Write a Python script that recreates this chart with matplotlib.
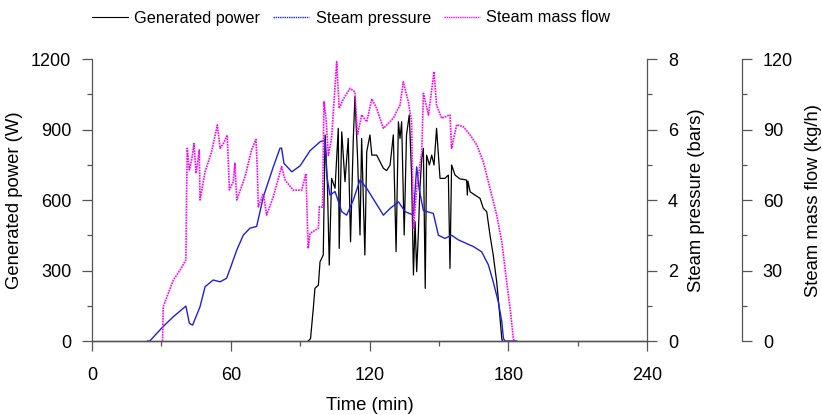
import matplotlib.pyplot as plt
from matplotlib.lines import Line2D
from matplotlib.ticker import MultipleLocator

plt.rcParams['font.family'] = ['Liberation Sans', 'DejaVu Sans']

# generated power (W)
t_power = [93.5, 94.5, 95.7, 96.4, 97.9, 98.6, 100, 100.8, 101.8, 102.6, 103.6, 105.1, 106.5,
           106.9, 108, 109.4, 110.8, 111.8, 113, 113.7, 114.8, 115.9, 116.6, 118, 118.8, 120.2,
           121, 123.1, 126, 127.4, 128.9, 130.3, 131.5, 132.5, 133.2, 133.9, 135, 136, 137.2,
           138.2, 139, 139.7, 140.4, 141.1, 141.8, 142.6, 143.3, 144.1, 144.7, 145.9, 146.9,
           147.9, 149, 150.5, 152.6, 154.1, 154.8, 155.5, 157, 159.1, 162, 162.3, 162.6, 163.5,
           165.6, 167.8, 169.2, 170.7, 172.1, 173.5, 175, 176.2, 177.2, 177.5]
power = [0, 10, 139, 224, 238, 337, 366, 877, 664, 323, 692, 650, 905,
         394, 890, 678, 862, 422, 862, 1040, 791, 451, 862, 366, 805, 877,
         791, 791, 735, 725, 749, 877, 380, 933, 862, 933, 451, 877, 962,
         706, 281, 508, 295, 451, 650, 777, 820, 224, 791, 749, 791,
         749, 905, 692, 692, 706, 309, 749, 706, 690, 685, 621, 680, 635,
         621, 607, 565, 550, 451, 366, 252, 125, 11, 0]

# steam pressure (bars)
t_pressure = [24, 25, 30.6, 35.2, 40.6, 42.1, 43.5, 46.7, 48.9, 52.4, 55.4, 58.2, 60, 62.6,
              65.4, 68.3, 71.2, 74.1, 78.4, 81.3, 82, 83, 86.4, 90, 94.3, 98.6, 100.8, 101.5,
              102.9, 105.1, 108, 110.1, 113, 115.9, 118.8, 122.4, 126, 128.9, 132.5, 135.4,
              139, 140.4, 141.5, 143.3, 147.6, 149.8, 152.6, 155.5, 158.4, 163.5, 164.9, 168.5,
              171.4, 173.5, 175.7, 177.2, 177.9, 178.5, 183.6]
pressure = [0, 0, 0.4, 0.69, 0.99, 0.5, 0.45, 0.97, 1.54, 1.73, 1.68, 1.78, 2.1, 2.58,
            3.0, 3.2, 3.25, 4.09, 4.94, 5.47, 5.47, 5.04, 4.8, 4.97, 5.4, 5.65, 5.7, 4.71,
            4.14, 4.24, 3.67, 3.57, 4.0, 4.57, 4.33, 3.95, 3.57, 3.76, 3.95, 3.67,
            3.57, 4.94, 4.3, 3.7, 3.62, 3.0, 2.91, 3.0, 2.87, 2.72, 2.68, 2.53,
            2.16, 1.68, 1.11, 0.55, 0.08, 0, 0]

# steam mass flow (kg/h)
t_flow = [30.5, 30.8, 33, 35.2, 38.1, 40.6, 40.9, 41.2, 42.1, 43.1, 44.1, 45, 46.4, 46.7,
          48.9, 51.7, 54.2, 55.4, 56.8, 58.5, 59.4, 61.1, 61.8, 62.6, 66.2, 69, 70.9, 71.5,
          71.9, 74.1, 75.5, 78.4, 82, 83.5, 87, 90.7, 92.5, 93.1, 93.5, 94.3, 97.9, 98.3,
          99.7, 100.3, 101.2, 102.2, 103.6, 105.8, 106.9, 108.7, 111.6, 113.7, 114.8, 116.6,
          118.8, 121, 123.1, 126, 128.9, 130.3, 131.7, 133.2, 134.6, 136.8, 138.2, 139, 140.4,
          142.6, 143.3, 145.5, 147.9, 149, 151.2, 154.8, 155.5, 157.7, 160.6, 163.5, 166.4,
          169.2, 172.1, 175, 177.2, 178.6, 179.3, 180.8, 182.2, 182.5]
flow = [0, 14.6, 20.3, 26, 30.2, 34.5, 62.8, 82, 72.8, 77, 84, 71.3, 81.3, 60,
        72, 80.5, 91.9, 82, 84, 87.6, 64.3, 67.8, 75.6, 60, 70, 81.3, 85.8, 72.8,
        57.1, 62.8, 53.6, 61.4, 74.2, 68.5, 64.2, 64.2, 71.3, 51.5, 39.4, 45.8, 48, 57.1,
        57, 101.8, 94.7, 79, 86.2, 118.8, 99, 103, 107.5, 106, 87.6, 96.2,
        93.3, 103, 99, 90.5, 93.3, 94.8, 97.6, 100.4, 110.3, 101.8, 93.3, 48, 65,
        80.5, 105.4, 96.2, 114.6, 100.4, 94.8, 96.2, 82, 92, 91.2, 87.7, 83.4,
        76.3, 65, 53.6, 42.3, 30.9, 25.2, 13.9, 1.1, 0]

fig = plt.figure(figsize=(8.22, 4.15), dpi=100)
ax = fig.add_axes([92 / 822, 1 - 341 / 415, 555 / 822, 282 / 415])
ax2 = ax.twinx()
ax3 = ax.twinx()

ax.plot(t_power, power, color='black', lw=0.9, zorder=3)
ax2.plot(t_pressure, pressure, color='#1f1fe0', lw=1.0)
ax3.plot(t_flow, flow, color='#ff00ff', lw=1.2, ls=(0, (1, 0.6)))

ax.set_xlim(0, 240)
ax.set_ylim(0, 1200)
ax2.set_ylim(0, 8)
ax3.set_ylim(0, 120)

ax.xaxis.set_major_locator(MultipleLocator(60))
ax.xaxis.set_minor_locator(MultipleLocator(30))
ax.yaxis.set_major_locator(MultipleLocator(300))
ax.yaxis.set_minor_locator(MultipleLocator(150))
ax2.yaxis.set_major_locator(MultipleLocator(2))
ax2.yaxis.set_minor_locator(MultipleLocator(1))
ax3.yaxis.set_major_locator(MultipleLocator(30))
ax3.yaxis.set_minor_locator(MultipleLocator(15))

spine_col = '#555555'
for a in (ax, ax2, ax3):
    a.spines['top'].set_visible(False)
    for s in a.spines.values():
        s.set_color(spine_col)
        s.set_linewidth(0.9)
    a.tick_params(which='major', length=7, width=0.9, color=spine_col, labelsize=13, pad=8)
    a.tick_params(which='minor', length=3.5, width=0.9, color=spine_col)
ax.tick_params(axis='x', which='major', pad=12)
ax.spines['right'].set_visible(False)
ax2.spines['left'].set_visible(False)
ax3.spines['left'].set_visible(False)
ax3.spines['right'].set_position(('outward', 95 * 72 / 100))

ax.set_xlabel('Time (min)', fontsize=13.3, labelpad=9)
ax.set_ylabel('Generated power (W)', fontsize=13.3, labelpad=6)
ax2.set_ylabel('Steam pressure (bars)', fontsize=13.3, labelpad=7)
ax3.set_ylabel('Steam mass flow (kg/h)', fontsize=13.3, labelpad=9)

handles = [Line2D([], [], color='black', lw=0.8),
           Line2D([], [], color='#1f1fe0', lw=1.0, ls=(0, (1, 0.6))),
           Line2D([], [], color='#ff00ff', lw=1.0, ls=(0, (1, 0.6)))]
fig.legend(handles, ['Generated power', 'Steam pressure', 'Steam mass flow'],
           loc='center left', bbox_to_anchor=(92 / 822, 1 - 18 / 415), ncol=3,
           frameon=False, fontsize=11.7, handlelength=2.2, handletextpad=0.4,
           columnspacing=0.8, borderpad=0, borderaxespad=0)

fig.savefig('out.png', dpi=100)
